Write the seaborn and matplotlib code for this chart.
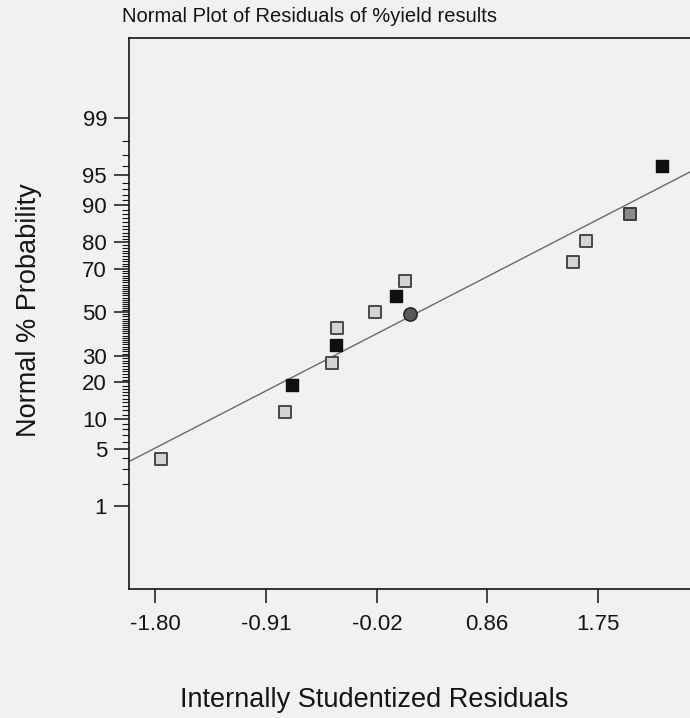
import seaborn as sns
import matplotlib.pyplot as plt
import pandas as pd
import numpy as np
from statistics import NormalDist

# Values
residuals = [-1.75, -0.76, -0.70, -0.38, -0.35, -0.34, -0.04, 0.13, 0.24, 0.20,
             1.55, 1.65, 2.01, 2.26]
probability = [3.9, 11.7, 19.3, 27.1, 34.8, 42.4, 50.0, 57.7, 49.2, 64.8,
               72.6, 80.4, 88.1, 96.0]
kind = ["open", "open", "black", "open", "black", "open", "open", "black", "circle", "open",
        "open", "open", "gray", "black"]

# reference line (two ends, as read)
fit_resid = [-2.01, 2.49]
fit_prob = [3.66, 95.4]

x_ticks = [-1.80, -0.91, -0.02, 0.86, 1.75]
y_ticks = [1, 5, 10, 20, 30, 50, 70, 80, 90, 95, 99]

nd = NormalDist()
def probit(p):
    return np.array([nd.inv_cdf(v / 100.0) for v in np.atleast_1d(p)])

df = pd.DataFrame({"resid": residuals, "prob": probability, "kind": kind})
df["z"] = probit(df["prob"])

sns.set_style("ticks")
plt.rcParams["font.family"] = ["Liberation Sans", "DejaVu Sans"]
bg = "#f1f1ef"
ink = "#151515"

fig = plt.figure(figsize=(6.9, 7.18), dpi=100, facecolor=bg)
ax = fig.add_axes([129 / 690, 129 / 718, 561 / 690, 551 / 718], facecolor=bg)

ax.plot(fit_resid, probit(fit_prob), color="#6a6a6a", lw=1.0, zorder=2)

styles = {
    "open": dict(marker="s", s=68, color="#d4d4d4", edgecolor="#484848", linewidth=1.4),
    "black": dict(marker="s", s=68, color="#101010", edgecolor="#101010", linewidth=1.0),
    "gray": dict(marker="s", s=68, color="#8a8a8a", edgecolor="#3a3a3a", linewidth=1.4),
    "circle": dict(marker="o", s=90, color="#5a5a5a", edgecolor="#2a2a2a", linewidth=1.2),
}
for k, st in styles.items():
    sub = df[df["kind"] == k]
    sns.scatterplot(data=sub, x="resid", y="z", ax=ax, zorder=3, legend=False, **st)

ax.set_xlim(-2.008, 2.487)
ax.set_ylim(-3.318, 3.289)

ax.set_xticks(x_ticks)
ax.set_xticklabels([f"{v:.2f}" for v in x_ticks])
ax.set_yticks(probit(y_ticks))
ax.set_yticklabels([str(v) for v in y_ticks])
minor = [v for v in range(1, 100) if v not in y_ticks]
ax.set_yticks(probit(minor), minor=True)

ax.tick_params(axis="x", length=10, width=1.1, pad=8, labelsize=16, colors=ink)
ax.tick_params(axis="y", which="major", length=10.8, width=1.1, pad=5, labelsize=16, colors=ink)
ax.tick_params(axis="y", which="minor", length=5, width=0.8, colors=ink)

for side in ["left", "bottom", "top"]:
    ax.spines[side].set_color(ink)
    ax.spines[side].set_linewidth(1.2)
ax.spines["right"].set_visible(False)

ax.set_xlabel("Internally Studentized Residuals", fontsize=19.5, color=ink, va="center")
ax.xaxis.set_label_coords(0.4367, -0.2015)
ax.set_ylabel("Normal % Probability", fontsize=19.5, color=ink, va="center")
ax.yaxis.set_label_coords(-0.178, 0.506)

fig.text(310 / 690, 1 - 17 / 718, "Normal Plot of Residuals of %yield results",
         ha="center", va="center", fontsize=14.5, color=ink)

fig.savefig("out.png", dpi=100, facecolor=bg)
plt.close(fig)
